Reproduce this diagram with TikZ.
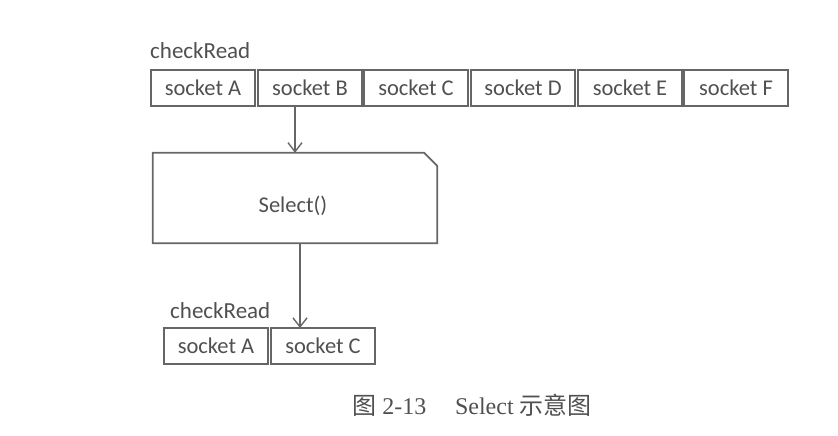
\documentclass[tikz,border=0pt]{standalone}
\usepackage{fontspec}
\setmainfont{Carlito}
\newfontfamily\capfont{Liberation Serif}
\newfontfamily\cjk{Noto Sans CJK SC}
\usepackage{tikz}
\usetikzlibrary{arrows.meta}

\definecolor{linegray}{HTML}{666666}
\definecolor{txtgray}{HTML}{505050}

\tikzset{
  sock/.style={draw=linegray, line width=1.3pt, minimum width=104, minimum height=36,
    inner sep=0pt, text=txtgray, font=\fontsize{22.5}{26}\selectfont},
  lbl/.style={anchor=south west, inner sep=0pt, text=txtgray, font=\fontsize{23}{26}\selectfont},
  flow/.style={draw=linegray, line width=1.6pt, -{Straight Barb[length=9pt,width=14pt,line width=1.4pt]}}
}

\begin{document}
\begin{tikzpicture}[x=1pt,y=-1pt]
	\useasboundingbox (0,0) rectangle (838,436);
	% top row
	\node[lbl] (top) at (150,59) {checkRead};
	\node[sock] (A) at (203,88) {socket A};
	\node[sock] (B) at (310,88) {socket B};
	\node[sock] (C) at (416,88) {socket C};
	\node[sock] (D) at (523,88) {socket D};
	\node[sock] (E) at (630,88) {socket E};
	\node[sock] (F) at (736,88) {socket F};
	% select box
	\node[minimum width=284, minimum height=90, inner sep=0pt] (sel) at (295,198) {};
	\draw[linegray, line width=1.7pt]
		(sel.north west) -- ([xshift=-13]sel.north east) -- ([yshift=-13]sel.north east)
		-- (sel.south east) -- (sel.south west) -- cycle;
	\node[text=txtgray, font=\fontsize{22.5}{26}\selectfont] (seltxt) at (293,206) {Select()};
	% bottom row
	\node[lbl] (bot) at (170,319) {checkRead};
	\node[sock] (A2) at (216,346) {socket A};
	\node[sock] (C2) at (323,346) {socket C};
	\coordinate (drop) at (300,328);
	\draw[flow] (B.south -| sel.north) -- (sel.north);
	\draw[flow] (sel.south -| drop) -- (drop);
	% caption
	\node[text=txtgray, font=\fontsize{24}{28}\selectfont] (cap) at (472,405)
		{{\cjk 图}\capfont\ 2-13\hspace{1.2em}Select {\cjk 示意图}};
\end{tikzpicture}
\end{document}
